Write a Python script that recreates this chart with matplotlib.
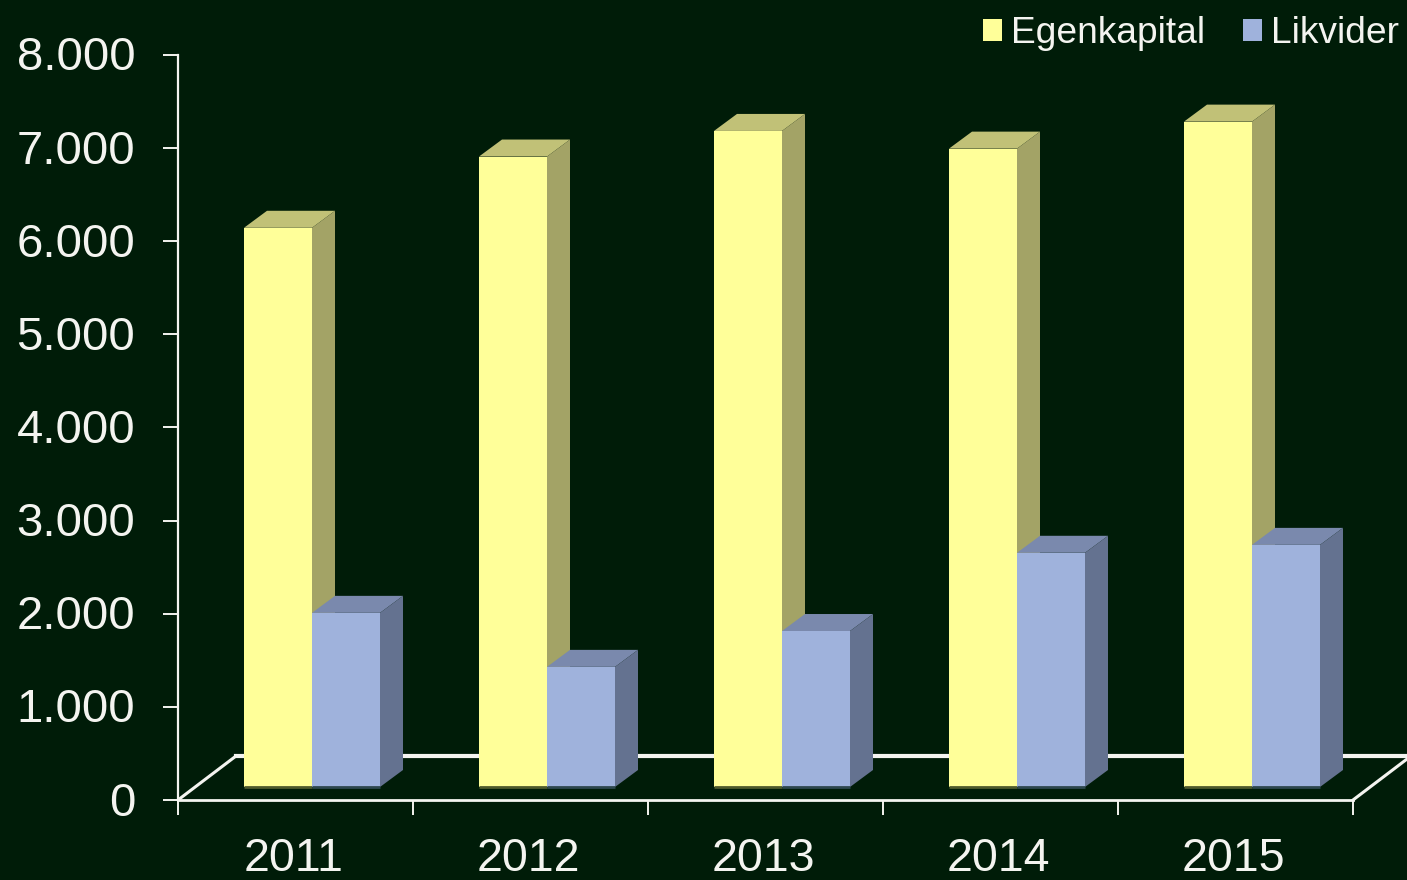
import matplotlib
matplotlib.use("Agg")
import matplotlib.pyplot as plt
from matplotlib.patches import Patch, Polygon
from matplotlib.transforms import ScaledTranslation

years = ["2011", "2012", "2013", "2014", "2015"]
egenkapital = [6005, 6770, 7045, 6855, 7145]
likvider = [1870, 1290, 1675, 2515, 2600]
yticks = [0, 1000, 2000, 3000, 4000, 5000, 6000, 7000, 8000]
ylabels = ["0", "1.000", "2.000", "3.000", "4.000", "5.000", "6.000", "7.000", "8.000"]

bg = "#001C08"
white = "#F4F4F0"
yellow = ("#FFFF99", "#C1C177", "#A3A366", "#4E5A2C")
blue = ("#9FB2DC", "#7A89AD", "#647290", "#2E474E")

plt.rcParams["font.family"] = ["Liberation Sans", "DejaVu Sans"]

W, H = 1407, 880
fig = plt.figure(figsize=(W / 100, H / 100), dpi=100, facecolor=bg)
ax = fig.add_axes([178 / W, (H - 800) / H, (W - 178) / W, 745 / H], facecolor=bg)

ax.set_xlim(0, (W - 178) / 235)
ax.set_ylim(0, 8000)

# 3D look, all in data units
px_y = 8000 / 745
px_x = 1 / 235
front = 13 * px_y
depth_x = 23 * px_x
depth_y = 17 * px_y
floor_x = 58 * px_x
floor_y = 44 * px_y
bar_w = 68 * px_x
bar_start = 66 * px_x

# floor
ax.plot([0, floor_x], [0, floor_y], color=white, lw=2.2, zorder=1, clip_on=False)
ax.plot([floor_x, (W - 178) * px_x], [floor_y, floor_y], color=white, lw=3, zorder=1, clip_on=False)
ax.plot([5, 5 + floor_x], [0, floor_y], color=white, lw=2.2, zorder=1, clip_on=False)


def draw_bar(x, v, cols, z):
    top = front + v
    ax.bar(x, v, bar_w, bottom=front, align="edge", color=cols[0], linewidth=0, zorder=z + 0.2)
    ax.add_patch(Polygon([(x, top), (x + depth_x, top + depth_y), (x + bar_w + depth_x, top + depth_y), (x + bar_w, top)],
                         closed=True, fc=cols[1], ec="none", zorder=z))
    ax.add_patch(Polygon([(x + bar_w, front), (x + bar_w + depth_x, front + depth_y),
                          (x + bar_w + depth_x, top + depth_y), (x + bar_w, top)],
                         closed=True, fc=cols[2], ec="none", zorder=z))
    ax.plot([x, x + bar_w], [front, front], color=cols[3], lw=2, zorder=z + 0.3, solid_capstyle="butt")


for i in range(len(years)):
    draw_bar(i + bar_start, egenkapital[i], yellow, 2 + i)
    draw_bar(i + bar_start + bar_w, likvider[i], blue, 2.5 + i)

for s in ["top", "right"]:
    ax.spines[s].set_visible(False)
ax.spines["left"].set_color(white)
ax.spines["left"].set_linewidth(1.6)
ax.spines["bottom"].set_color(white)
ax.spines["bottom"].set_linewidth(2)
ax.spines["bottom"].set_bounds(0, 5)

ax.set_yticks(yticks)
ax.set_yticklabels(ylabels, fontsize=34, color=white)
ax.tick_params(axis="y", length=10.8, width=1.4, color=white, pad=20)
# labels sit a little higher than the ticks
up = ScaledTranslation(0, 1.5 / 100, fig.dpi_scale_trans)
for lab in ax.get_yticklabels():
    lab.set_transform(lab.get_transform() + up)

ax.set_xticks(range(6))
ax.set_xticklabels([])
ax.set_xticks([i + 0.49 for i in range(5)], minor=True)
ax.set_xticklabels(years, minor=True, fontsize=33.5, color=white)
ax.tick_params(axis="x", which="major", length=10.8, width=1.4, color=white)
ax.tick_params(axis="x", which="minor", length=0, pad=26.5)

handles = [Patch(fc=yellow[0], ec="none"), Patch(fc=blue[0], ec="none")]
fig.legend(handles, ["Egenkapital", "Likvider"], ncol=2, frameon=False, fontsize=26.7,
           loc="upper right", bbox_to_anchor=(1399 / W, (H - 16) / H), borderpad=0, borderaxespad=0,
           handlelength=0.51, handleheight=0.51, handletextpad=0.24, columnspacing=1.02,
           labelcolor=white)

fig.savefig("out.png", dpi=100, facecolor=bg)
